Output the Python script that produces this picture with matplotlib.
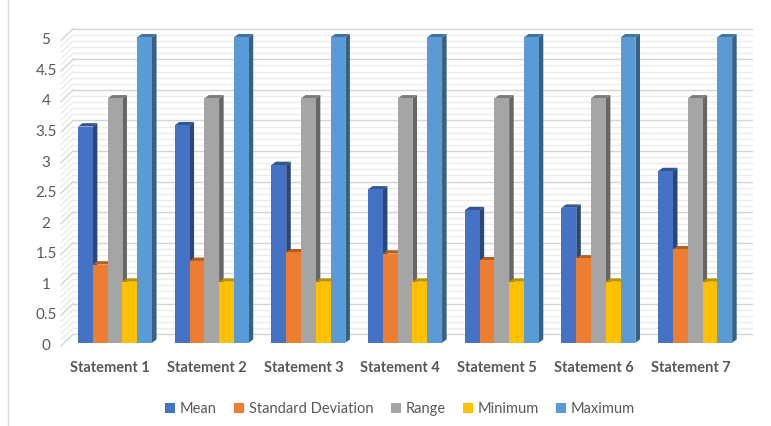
import matplotlib.pyplot as plt
from matplotlib.patches import Polygon, Patch
from matplotlib.lines import Line2D
import numpy as np

plt.rcParams['font.family'] = ['Lato', 'DejaVu Sans']

# Data
statements = ["Statement 1", "Statement 2", "Statement 3", "Statement 4",
              "Statement 5", "Statement 6", "Statement 7"]
mean = [3.54, 3.56, 2.91, 2.51, 2.17, 2.21, 2.81]
std_dev = [1.28, 1.34, 1.48, 1.46, 1.35, 1.38, 1.53]
value_range = [4, 4, 4, 4, 4, 4, 4]
minimum = [1, 1, 1, 1, 1, 1, 1]
maximum = [5, 5, 5, 5, 5, 5, 5]

series_names = ["Mean", "Standard Deviation", "Range", "Minimum", "Maximum"]
colors = ["#4472C4", "#ED7D31", "#A5A5A5", "#FFC000", "#5B9BD5"]
y_ticks = [0, 0.5, 1, 1.5, 2, 2.5, 3, 3.5, 4, 4.5, 5]

text_color = "#595959"


def shade(c, f):
    r, g, b = [int(c[i:i + 2], 16) / 255 for i in (1, 3, 5)]
    return (r * f, g * f, b * f)


fig = plt.figure(figsize=(7.71, 4.26), dpi=100)
ax = fig.add_axes([57 / 771, (426 - 348.9) / 426, 701 / 771, 329.9 / 426])
ax.set_xlim(-0.6, 6.65)
ax.set_ylim(-0.1, 5.3)
ax.axis("off")

# back wall + left wall gridlines (fake 3D)
wall_front_x, wall_back_x, wall_right_x = -0.558, -0.434, 6.587
for v in np.arange(0, 5.01, 0.1):
    major = abs(v * 2 - round(v * 2)) < 1e-6
    col = "#d4d4d4" if major else "#ececec"
    ax.plot([wall_back_x, wall_right_x], [v + 0.14, v + 0.14], color=col, lw=1.0, zorder=1)
    ax.plot([wall_front_x, wall_back_x], [v - 0.05, v + 0.14], color=col, lw=1.0, zorder=1)

for v in y_ticks:
    ax.text(-0.714, v - 0.05, f"{v:g}", ha="center", va="center",
            fontsize=11, color=text_color, clip_on=False)

# bars with side and top faces
series = [mean, std_dev, value_range, minimum, maximum]
x = np.arange(len(statements))
w = 0.153
dx, dy = 0.047, 0.055
z = 2
for i in range(len(statements)):
    for j, vals in enumerate(series):
        h = vals[i]
        xl = x[i] + (j - 2.5) * w
        xr = xl + w
        side = Polygon([(xr, 0), (xr + dx, dy), (xr + dx, h + dy), (xr, h)],
                       closed=True, facecolor=shade(colors[j], 0.62), edgecolor="none", zorder=z)
        top = Polygon([(xl, h), (xr, h), (xr + dx, h + dy), (xl + dx, h + dy)],
                      closed=True, facecolor=shade(colors[j], 0.75), edgecolor="none", zorder=z + 1)
        ax.add_patch(side)
        ax.add_patch(top)
        ax.bar(xl, h, width=w, align="edge", color=colors[j], zorder=z + 2)
        z += 3

for i, s in enumerate(statements):
    ax.text(x[i] - 0.05, -0.42, s, ha="center", va="center", fontsize=10.5,
            fontweight="bold", color=text_color, clip_on=False)

handles = [Patch(facecolor=c, edgecolor="none") for c in colors]
fig.legend(handles, series_names, loc="center", bbox_to_anchor=(400 / 771, 1 - 409 / 426),
           ncol=5, frameon=False, fontsize=10.5, labelcolor=text_color,
           handlelength=0.7, handleheight=0.7, handletextpad=0.3, columnspacing=1.2)

fig.add_artist(Line2D([8 / 771, 8 / 771], [0, 1], color="#d9d9d9", lw=1))

fig.savefig("out.png", dpi=100)
